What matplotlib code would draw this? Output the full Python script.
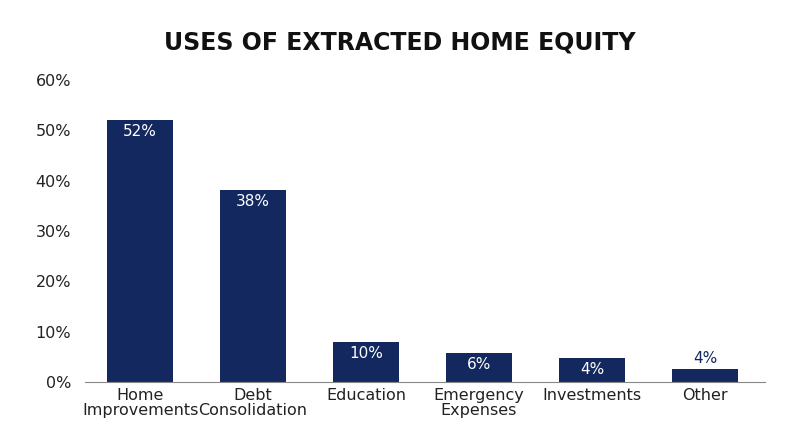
import matplotlib
matplotlib.use("Agg")
import matplotlib.pyplot as plt

categories = ["Home\nImprovements", "Debt\nConsolidation", "Education", "Emergency\nExpenses", "Investments", "Other"]
values = [52.1, 38.2, 7.9, 5.8, 4.8, 2.6]
labels = ["52%", "38%", "10%", "6%", "4%", "4%"]
yticks = [0, 10, 20, 30, 40, 50, 60]

navy = "#13285e"
fig = plt.figure(figsize=(8, 4.47), dpi=100)
ax = fig.add_axes([0.106, 0.145, 0.85, 0.676])
x = range(len(categories))
ax.bar(x, values, width=0.59, color=navy, zorder=2)
for i, (v, l) in enumerate(zip(values, labels)):
    if v > 4:
        ax.text(i, v - 0.8, l, ha="center", va="top", color="white", fontsize=11)
    else:
        ax.text(i, v + 0.6, l, ha="center", va="bottom", color=navy, fontsize=11)
ax.set_xlim(-0.49, 5.53)
ax.set_ylim(0, 60)
ax.set_yticks(yticks)
ax.set_yticklabels([f"{t}%" for t in yticks], fontsize=11.5, color="#222222")
ax.set_xticks(list(x))
ax.set_xticklabels(categories, fontsize=11.5, color="#222222", linespacing=1.0)
for s in ["top", "right", "left"]:
    ax.spines[s].set_visible(False)
ax.spines["bottom"].set_color("#888888")
ax.tick_params(axis="y", length=0, pad=10)
ax.tick_params(axis="x", length=0, pad=4)
fig.text(0.5, 0.905, "USES OF EXTRACTED HOME EQUITY", ha="center", va="center",
         fontsize=17, fontweight="bold", family=["Liberation Sans Narrow", "DejaVu Sans"], color="#111111")
fig.savefig("out.png", dpi=100, facecolor="white")
